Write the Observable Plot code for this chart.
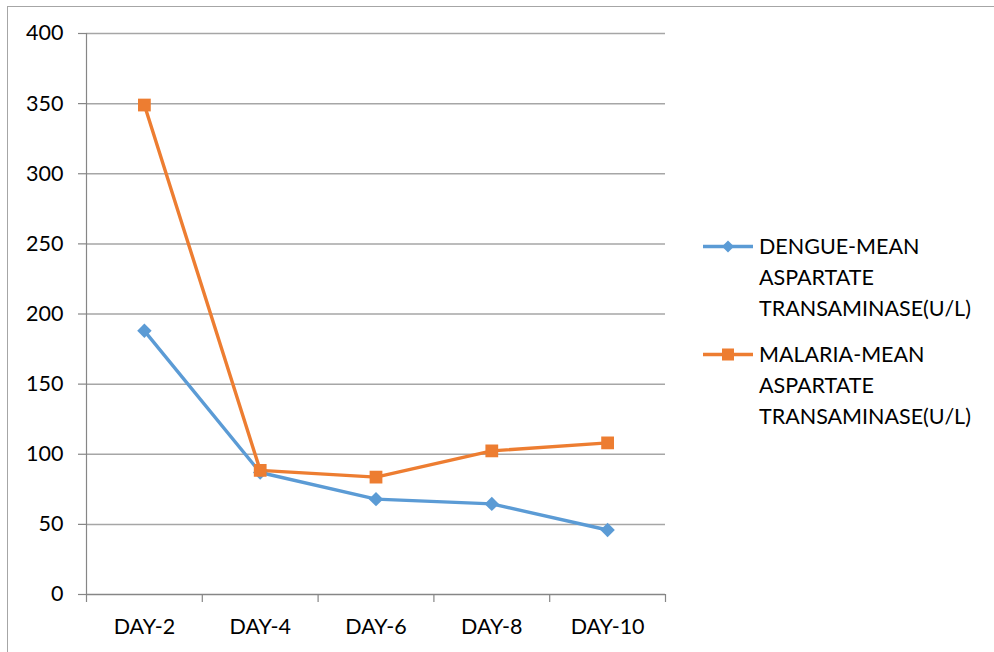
<!DOCTYPE html>
<html>
<head>
<meta charset="utf-8">
<script src="https://cdn.jsdelivr.net/npm/d3@7"></script>
<script src="https://cdn.jsdelivr.net/npm/@observablehq/plot@0.6"></script>
<style>
  html, body { margin: 0; padding: 0; background: #fff; }
  #wrap { position: relative; width: 994px; height: 652px; overflow: hidden; font-family: Lato, "Open Sans", sans-serif; }
  #border { position: absolute; left: 7px; top: 6px; width: 990px; height: 700px; border-top: 1.5px solid #a6a6a6; border-left: 1.5px solid #a6a6a6; box-sizing: border-box; }
  #legend { position: absolute; left: 700px; top: 231px; font-size: 21.5px; color: #000; }
  .item { position: relative; padding-left: 59px; line-height: 31px; margin-bottom: 15px; }
  .item svg { position: absolute; left: 3px; top: 0; }
</style>
</head>
<body>
<div id="wrap">
  <div id="border"></div>
  <div id="chart"></div>
  <div id="legend"></div>
</div>
<script>
const days = ["DAY-2", "DAY-4", "DAY-6", "DAY-8", "DAY-10"];
const dengue = [188, 87, 68, 64.6, 46];
const malaria = [349, 88.5, 83.7, 102.4, 108.1];
const yTicks = [0, 50, 100, 150, 200, 250, 300, 350, 400];
const seriesNames = ["DENGUE-MEAN ASPARTATE TRANSAMINASE(U/L)", "MALARIA-MEAN ASPARTATE TRANSAMINASE(U/L)"];
const seriesColors = ["#5b9bd5", "#ed7d31"];

const data = [];
days.forEach((d, i) => {
  data.push({day: d, value: dengue[i], series: seriesNames[0]});
  data.push({day: d, value: malaria[i], series: seriesNames[1]});
});
const dData = data.filter(d => d.series === seriesNames[0]);
const mData = data.filter(d => d.series === seriesNames[1]);

const W = 994, H = 652, mL = 86, mR = 329, mT = 33, mB = 58;
const bw = (W - mL - mR) / days.length;

const chart = Plot.plot({
  width: W,
  height: H,
  marginLeft: mL,
  marginRight: mR,
  marginTop: mT,
  marginBottom: mB,
  style: {fontFamily: "Lato, 'Open Sans', sans-serif", fontSize: "21.5px", color: "#000", background: "transparent"},
  x: {type: "band", domain: days, padding: 0, round: false, label: null},
  y: {domain: [0, 400], label: null},
  marks: [
    Plot.ruleY(yTicks.filter(t => t > 0), {stroke: "#a6a6a6", strokeWidth: 1.5}),
    Plot.axisY({ticks: yTicks, tickSize: 8, tickPadding: 15, stroke: "#868686", strokeWidth: 1.2, label: null, fill: "#000", fontSize: 21.5}),
    Plot.axisX({tickSize: 0, tickPadding: 24, label: null, fill: "#000", fontSize: 21.5}),
    Plot.ruleY([0], {stroke: "#868686", strokeWidth: 1.5}),
    Plot.ruleX(days, {x: d => d, y1: 0, y2: 0, insetBottom: -8, dx: -bw / 2, stroke: "#868686", strokeWidth: 1.2}),
    Plot.ruleX(days.slice(-1), {x: d => d, y1: 0, y2: 0, insetBottom: -8, dx: bw / 2, stroke: "#868686", strokeWidth: 1.2}),
    Plot.ruleX(days.slice(0, 1), {x: d => d, y1: 0, y2: 400, dx: -bw / 2, stroke: "#868686", strokeWidth: 1.2}),
    Plot.line(dData, {x: "day", y: "value", stroke: seriesColors[0], strokeWidth: 3.4}),
    Plot.line(mData, {x: "day", y: "value", stroke: seriesColors[1], strokeWidth: 3.4}),
    Plot.dot(dData, {x: "day", y: "value", symbol: "diamond2", r: 6.5, fill: seriesColors[0], stroke: "none"}),
    Plot.dot(mData, {x: "day", y: "value", symbol: "square", r: 7.2, fill: seriesColors[1], stroke: "none"})
  ]
});
document.getElementById("chart").appendChild(chart);

const legend = document.getElementById("legend");
const words = [["DENGUE-MEAN", "ASPARTATE", "TRANSAMINASE(U/L)"], ["MALARIA-MEAN", "ASPARTATE", "TRANSAMINASE(U/L)"]];
seriesNames.forEach((name, i) => {
  const item = document.createElement("div");
  item.className = "item";
  const sym = i === 0
    ? `<path d="M25,9.5 L31,15.5 L25,21.5 L19,15.5 Z" fill="${seriesColors[0]}"/>`
    : `<rect x="19" y="9.5" width="12" height="12" fill="${seriesColors[1]}"/>`;
  item.innerHTML = `<svg width="52" height="31"><line x1="0" y1="15.5" x2="50" y2="15.5" stroke="${seriesColors[i]}" stroke-width="3.4"/>${sym}</svg>` + words[i].join("<br>");
  legend.appendChild(item);
});
</script>
</body>
</html>
